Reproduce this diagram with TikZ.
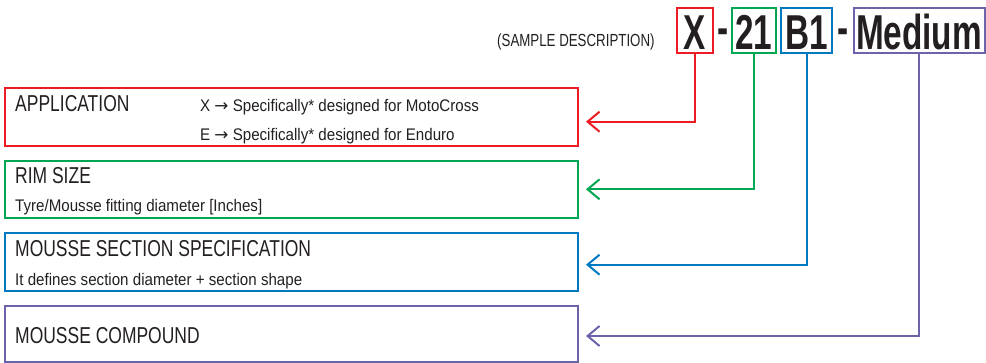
\documentclass[tikz,border=0pt]{standalone}
\usepackage{fontspec}
\setmainfont{Liberation Sans}[FakeStretch=0.76]
\newfontfamily\codefont{Liberation Sans}[FakeStretch=0.68]
\newfontfamily\descfont{Liberation Sans}[FakeStretch=0.9]
\newfontfamily\arrowfont{DejaVu Sans}
\usetikzlibrary{arrows.meta}
\definecolor{ink}{HTML}{231F20}
\definecolor{appred}{HTML}{ED1C24}
\definecolor{rimgreen}{HTML}{00A651}
\definecolor{secblue}{HTML}{0079C1}
\definecolor{cmppurple}{HTML}{6B64AB}
\newcommand{\rarr}{{\arrowfont →}}
\begin{document}
\begin{tikzpicture}[x=1pt,y=-1pt,
  txt/.style={text=ink, inner sep=0pt, anchor=base west},
  head/.style={txt, font=\fontsize{23}{27}\selectfont},
  small/.style={txt, font=\fontsize{17.5}{21}\selectfont},
  desc/.style={txt, font=\descfont\fontsize{16.8}{20}\selectfont},
  infobox/.style={draw=#1, line width=2pt, minimum width=573pt, inner sep=0pt},
  codebox/.style={draw=#1, line width=2pt, inner sep=0pt, minimum height=45pt,
    text height=38pt, text depth=0pt, text=ink,
    font=\codefont\bfseries\fontsize{49}{55}\selectfont},
  codedash/.style={inner sep=0pt, anchor=base, text=ink,
    font=\codefont\bfseries\fontsize{49}{55}\selectfont},
  conn/.style={draw=#1, line width=2pt, -{Straight Barb[length=12pt,width=20pt]}},
]
\useasboundingbox (0,0) rectangle (986,363);

% sample description
\node[small] (sample) at (497,46.7) {(SAMPLE DESCRIPTION)};

% code boxes
\node[codebox=appred, minimum width=36.6pt] (cx) at (695,30.8) {X};
\node[codedash] (d1) at (723,45) {-};
\node[codebox=rimgreen, minimum width=44.3pt] (c21) at (753.85,30.8) {21};
\node[codebox=secblue, minimum width=51pt] (cb1) at (806.5,30.8) {B1};
\node[codedash] (d2) at (843,45) {-};
\node[codebox=cmppurple, minimum width=131pt] (cmed) at (919,30.8) {Medium};

% info boxes
\node[infobox=appred, minimum height=58.2pt] (app) at (291.5,117.4) {};
\node[infobox=rimgreen, minimum height=57.5pt] (rim) at (291.5,189.75) {};
\node[infobox=secblue, minimum height=58.2pt] (sec) at (291.5,262.4) {};
\node[infobox=cmppurple, minimum height=56pt] (cmp) at (291.5,334) {};

% texts
\node[head] (t1) at (15,111.7) {APPLICATION};
\node[desc] (t1a) at (200,112) {X \rarr\ Specifically* designed for MotoCross};
\node[desc] (t1b) at (200,140.5) {E \rarr\ Specifically* designed for Enduro};
\node[head] (t2) at (15,184) {RIM SIZE};
\node[desc] (t2a) at (15,212) {Tyre/Mousse fitting diameter [Inches]};
\node[head] (t3) at (15,256.7) {MOUSSE SECTION SPECIFICATION};
\node[desc] (t3a) at (15,285.5) {It defines section diameter + section shape};
\node[head] (t4) at (15,343.3) {MOUSSE COMPOUND};

% arrow targets
\coordinate (a1) at (586,121.7);
\coordinate (a2) at (586,189.3);
\coordinate (a3) at (586,264.7);
\coordinate (a4) at (586,336);

% connectors
\draw[conn=appred] (cx.south) |- (a1);
\draw[conn=rimgreen] (c21.south) |- (a2);
\draw[conn=secblue] (cb1.south) |- (a3);
\draw[conn=cmppurple] (cmed.south) |- (a4);
\end{tikzpicture}
\end{document}
